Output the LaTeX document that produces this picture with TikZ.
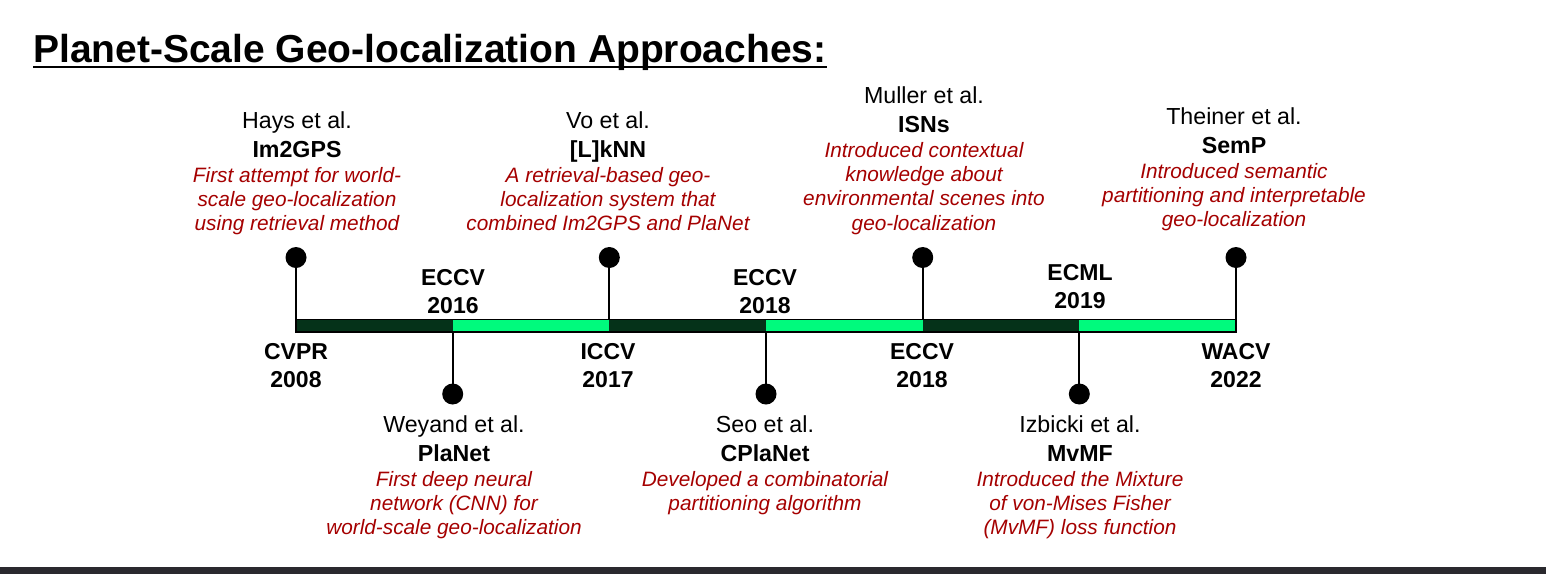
\documentclass[tikz,border=0pt]{standalone}
\usepackage{fontspec}
\setmainfont{Liberation Sans}
\usetikzlibrary{calc}
\definecolor{descred}{RGB}{165,0,0}
\definecolor{darkseg}{RGB}{5,50,25}
\definecolor{brightseg}{RGB}{0,250,125}
\definecolor{footbar}{RGB}{42,41,46}
\tikzset{
  author/.style={anchor=base, inner sep=0pt, font=\fontsize{23.2}{28}\selectfont},
  method/.style={anchor=base, inner sep=0pt, font=\bfseries\fontsize{23.2}{28}\selectfont},
  desc/.style={anchor=base, inner sep=0pt, align=center, text=descred, font=\itshape\fontsize{20.8}{24.4}\selectfont},
  conf/.style={anchor=base, inner sep=0pt, align=center, font=\bfseries\fontsize{23}{28}\selectfont},
  dotnode/.style={circle, fill=black, inner sep=0pt, minimum size=21pt},
  stem/.style={line width=2pt, black},
  barline/.style={line width=1.2pt, black},
}
% name, x, first baseline, author, method, description, number of description lines
\newcommand\tlevent[7]{%
  \node[author] (#1a) at (#2,#3) {#4};
  \node[method] (#1m) at (#2,#3+29) {#5};
  \node[desc] (#1d) at (#2,#3+54+#7*24.4-24.4) {#6};
}
\begin{document}
\begin{tikzpicture}[x=1pt,y=-1pt]
\useasboundingbox (0,0) rectangle (1546,574);
\fill[white] (0,0) rectangle (1546,574);
\fill[footbar] (0,567) rectangle (1546,574);

% title
\node[anchor=base west, inner sep=0pt, font=\bfseries\fontsize{39}{44}\selectfont] (title) at (33,62) {Planet-Scale Geo-localization Approaches:};
\draw[line width=2.6pt] ([yshift=-5pt]title.base west) -- ([yshift=-5pt]title.base east);

% timeline coordinates
\foreach \i/\xx in {0/296,1/452.7,2/609.3,3/766,4/922.7,5/1079.3,6/1236}{
  \coordinate (t\i) at (\xx,319.5);
  \coordinate (b\i) at (\xx,332);
}
\fill[darkseg] (t0) rectangle (b1);
\fill[brightseg] (t1) rectangle (b2);
\fill[darkseg] (t2) rectangle (b3);
\fill[brightseg] (t3) rectangle (b4);
\fill[darkseg] (t4) rectangle (b5);
\fill[brightseg] (t5) rectangle (b6);
\draw[barline] (t0) rectangle (b6);

% dots and stems
\foreach \i in {0,2,4,6}{
  \node[dotnode] (d\i) at ($(t\i)+(0,-62)$) {};
  \draw[stem] (d\i.center) -- (t\i);
}
\foreach \i in {1,3,5}{
  \node[dotnode] (d\i) at ($(b\i)+(0,62)$) {};
  \draw[stem] (b\i) -- (d\i.center);
}

% conference labels (anchor base = last line)
\node[conf] (c0) at (296,387) {CVPR\\2008};
\node[conf] (c1) at (453,313) {ECCV\\2016};
\node[conf] (c2) at (608,387) {ICCV\\2017};
\node[conf] (c3) at (765,313) {ECCV\\2018};
\node[conf] (c4) at (922,387) {ECCV\\2018};
\node[conf] (c5) at (1080,308) {ECML\\2019};
\node[conf] (c6) at (1236,387) {WACV\\2022};

% events
\tlevent{hays}{297}{128}{Hays et al.}{Im2GPS}{First attempt for world-\\scale geo-localization\\using retrieval method}{3}
\tlevent{vo}{608}{128}{Vo et al.}{[L]kNN}{A retrieval-based geo-\\localization system that\\combined Im2GPS and PlaNet}{3}
\tlevent{muller}{924}{103}{Muller et al.}{ISNs}{Introduced contextual\\knowledge about\\environmental scenes into\\geo-localization}{4}
\tlevent{theiner}{1234}{124}{Theiner et al.}{SemP}{Introduced semantic\\partitioning and interpretable\\geo-localization}{3}
\tlevent{weyand}{454}{432}{Weyand et al.}{PlaNet}{First deep neural\\network (CNN) for\\world-scale geo-localization}{3}
\tlevent{seo}{765}{432}{Seo et al.}{CPlaNet}{Developed a combinatorial\\partitioning algorithm}{2}
\tlevent{izbicki}{1080}{432}{Izbicki et al.}{MvMF}{Introduced the Mixture\\of von-Mises Fisher\\(MvMF) loss function}{3}
\end{tikzpicture}
\end{document}
